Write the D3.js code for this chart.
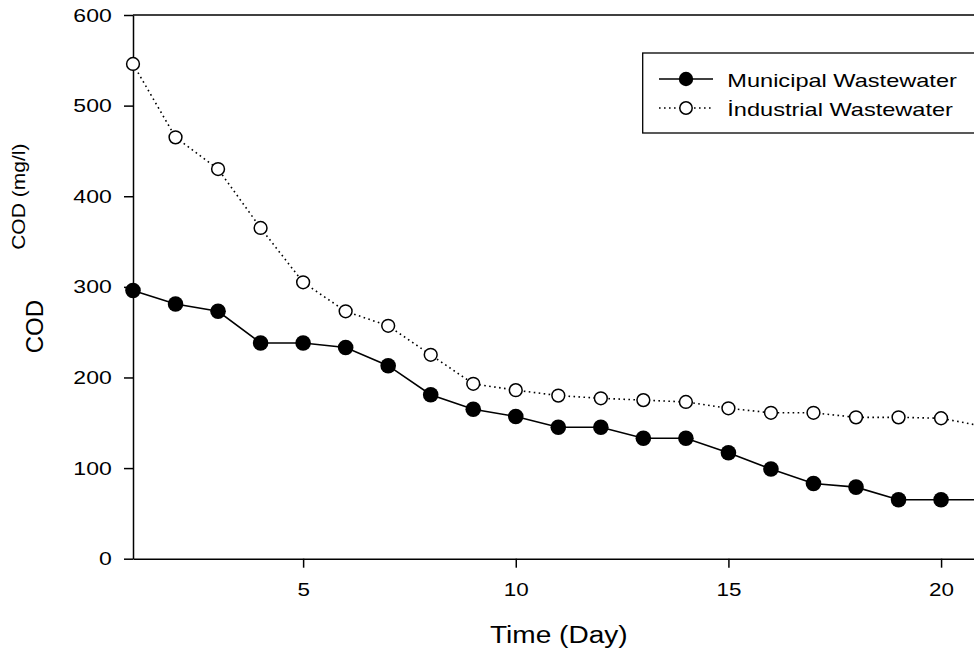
<!DOCTYPE html>
<html><head><meta charset="utf-8">
<script src="https://cdn.jsdelivr.net/npm/d3@7"></script>
<style>
body{margin:0;background:#fff}
svg{display:block;font-family:"Liberation Sans",Arial,Helvetica,sans-serif}
</style>
</head><body>
<svg id="c" width="974" height="654"></svg>
<script>
// ---- data ----
const days = [1,2,3,4,5,6,7,8,9,10,11,12,13,14,15,16,17,18,19,20,21];
const municipal = [296,281,273,238,238,233,213,181,165,157,145,145,133,133,117,99,83,79,65,65,65];
const industrial = [546,465,430,365,305,273,257,225,193,186,180,177,175,173,166,161,161,156,156,155,146];
const xTicks = [5,10,15,20];
const yTicks = [0,100,200,300,400,500,600];
const seriesNames = ["Municipal Wastewater","İndustrial Wastewater"];
const xTitle = "Time (Day)";
const yTitle1 = "COD (mg/l)";
const yTitle2 = "COD";

// ---- layout ----
const svg = d3.select("#c");
const x = d3.scaleLinear().domain([1, 21.5]).range([133, 133 + 20.5 * 42.53]);
const y = d3.scaleLinear().domain([0, 600]).range([558.7, 15]);

function stretch(sel, f){
  sel.each(function(){
    const w = this.getComputedTextLength();
    d3.select(this).attr("textLength", w * f).attr("lengthAdjust", "spacingAndGlyphs");
  });
}

// top frame
svg.append("line").attr("x1", x(1)).attr("x2", x.range()[1])
  .attr("y1", y(600)).attr("y2", y(600)).attr("stroke", "#000").attr("stroke-width", 1.5);
svg.append("line").attr("x1", x.range()[1]).attr("x2", x.range()[1])
  .attr("y1", y(600)).attr("y2", y(0)).attr("stroke", "#000").attr("stroke-width", 1.5);

// axes
const gy = svg.append("g").attr("transform", `translate(${x(1)},0)`)
  .call(d3.axisLeft(y).tickValues(yTicks).tickSize(9).tickPadding(12.3).tickSizeOuter(0));
const gx = svg.append("g").attr("transform", `translate(0,${y(0)})`)
  .call(d3.axisBottom(x).tickValues(xTicks).tickSize(9).tickPadding(14.5).tickSizeOuter(0));
[gy, gx].forEach(g => {
  g.select(".domain").attr("stroke", "#000").attr("stroke-width", 1.5);
  g.selectAll(".tick line").attr("stroke", "#000").attr("stroke-width", 1.5);
  g.selectAll(".tick text").attr("fill", "#000").style("font-size", "19px")
    .style("font-family", '"Liberation Sans",Arial,sans-serif');
});
stretch(gy.selectAll(".tick text"), 1.21);
stretch(gx.selectAll(".tick text"), 1.18);

// axis titles
const tx = svg.append("text").attr("x", 558.8).attr("y", 643.3).attr("text-anchor", "middle")
  .style("font-size", "23px").attr("fill", "#000").text(xTitle);
stretch(tx, 1.22);
const ty1 = svg.append("text").attr("transform", "translate(25,196.7) rotate(-90)")
  .attr("text-anchor", "middle").style("font-size", "18.6px").attr("fill", "#000").text(yTitle1);
stretch(ty1, 1.13);
const ty2 = svg.append("text").attr("transform", "translate(42.7,326.7) rotate(-90)")
  .attr("text-anchor", "middle").style("font-size", "24.5px").attr("fill", "#000").text(yTitle2);
stretch(ty2, 0.98);

// lines
const lineGen = vals => d3.line().x((d, i) => x(days[i])).y(d => y(d))(vals);
svg.append("path").attr("d", lineGen(industrial)).attr("fill", "none")
  .attr("stroke", "#000").attr("stroke-width", 1.6).attr("stroke-dasharray", "1.6,3.4");
svg.append("path").attr("d", lineGen(municipal)).attr("fill", "none")
  .attr("stroke", "#000").attr("stroke-width", 1.6);

// markers
svg.append("g").selectAll("circle").data(industrial).join("circle")
  .attr("cx", (d, i) => x(days[i])).attr("cy", d => y(d)).attr("r", 6.4)
  .attr("fill", "#fff").attr("stroke", "#000").attr("stroke-width", 1.5);
svg.append("g").selectAll("circle").data(municipal).join("circle")
  .attr("cx", (d, i) => x(days[i])).attr("cy", d => y(d)).attr("r", 7.8)
  .attr("fill", "#000");

// legend
const lg = svg.append("g");
lg.append("rect").attr("x", 642.7).attr("y", 53).attr("width", 400).attr("height", 80)
  .attr("fill", "#fff").attr("stroke", "#000").attr("stroke-width", 1.3);
const rows = [
  {name: seriesNames[0], y: 79, filled: true},
  {name: seriesNames[1], y: 108, filled: false}
];
rows.forEach(r => {
  const l = lg.append("line").attr("x1", 659).attr("x2", 713).attr("y1", r.y).attr("y2", r.y)
    .attr("stroke", "#000").attr("stroke-width", 1.6);
  if (!r.filled) l.attr("stroke-dasharray", "1.6,3.4");
  lg.append("circle").attr("cx", 686).attr("cy", r.y).attr("r", r.filled ? 7.2 : 6.2)
    .attr("fill", r.filled ? "#000" : "#fff").attr("stroke", "#000").attr("stroke-width", r.filled ? 0 : 1.5);
  const t = lg.append("text").attr("x", 727.3).attr("y", r.y + 7.7)
    .style("font-size", "19px").attr("fill", "#000").text(r.name);
  stretch(t, 1.24);
});
</script>
</body></html>
